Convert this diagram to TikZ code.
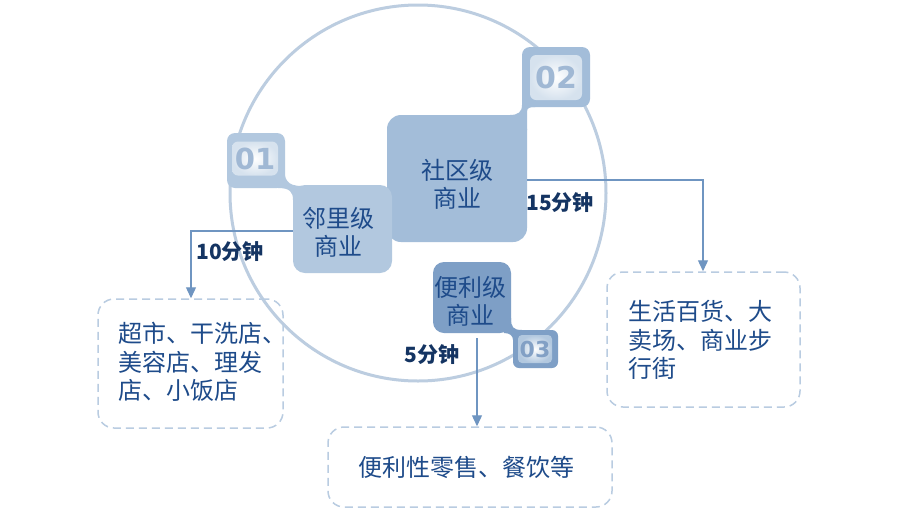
\documentclass[tikz,border=0pt]{standalone}
\usepackage{fontspec}
\setmainfont{Noto Sans CJK SC}
\newfontfamily\digitfont{DejaVu Sans}
\usetikzlibrary{arrows.meta}
\definecolor{ringc}{RGB}{188,205,224}
\definecolor{boxmid}{RGB}{163,189,217}
\definecolor{boxlight}{RGB}{178,200,223}
\definecolor{boxdark}{RGB}{126,159,198}
\definecolor{txtc}{RGB}{30,75,138}
\definecolor{labc}{RGB}{20,52,98}
\definecolor{arrc}{RGB}{111,149,193}
\definecolor{dashc}{RGB}{185,204,225}
\definecolor{innerc}{RGB}{214,226,238}
\definecolor{digc}{RGB}{160,184,212}
\definecolor{digdark}{RGB}{130,160,197}
\begin{document}
\begin{tikzpicture}[x=1pt,y=-1pt,
  ring/.style={draw=ringc,line width=3pt},
  tile/.style={rounded corners=14pt,inner sep=0pt},
  badge/.style={rounded corners=8pt,inner sep=0pt},
  inbadge/.style={rounded corners=6pt,inner sep=0pt,inner color=white,outer color=innerc},
  boxtext/.style={text=txtc,align=center,font=\fontsize{24}{28}\selectfont},
  timelab/.style={text=labc,font=\bfseries\fontsize{21}{24}\selectfont},
  frame/.style={draw=dashc,line width=1.5pt,dash pattern=on 8pt off 5pt,rounded corners=16pt,inner sep=0pt},
  frametext/.style={text=txtc,align=left,font=\fontsize{24}{28.5}\selectfont,inner sep=0pt},
  arr/.style={draw=arrc,line width=1.3pt,-{Triangle[width=10pt,length=11pt]}}
]
\useasboundingbox (0,0) rectangle (900,512);
\fill[white] (0,0) rectangle (900,512);

% ring
\draw[ring] (418,193) circle[radius=188];

% junctions
\fill[boxmid] (522,98) -- (522,105) .. controls (522,112) and (518,115) .. (510,115)
  -- (510,125) -- (527,130) -- (527,112) .. controls (527,108) and (529,107) .. (535,107) -- (535,98) -- cycle;
\fill[boxlight] (278,165) -- (284,165) .. controls (284,180) and (287,186) .. (302,186)
  -- (302,200) -- (293,200) .. controls (293,192) and (290,188) .. (278,188) -- cycle;
\fill[boxdark] (504,318) -- (511,318) .. controls (511,327) and (513,330) .. (522,330)
  -- (522,340) -- (513,340) .. controls (513,336) and (510,333) .. (504,333) -- cycle;

% badges
\node[badge,fill=boxmid,minimum width=68pt,minimum height=60pt] (b2) at (556,77) {};
\node[inbadge,minimum width=52pt,minimum height=45pt] (b2i) at (556,77.5)
  {\digitfont\bfseries\fontsize{30}{30}\selectfont\color{digc}02};
\node[badge,fill=boxlight,minimum width=58pt,minimum height=55pt] (b1) at (256,160.5) {};
\node[inbadge,minimum width=46pt,minimum height=34pt] (b1i) at (255,158.5)
  {\digitfont\bfseries\fontsize{29}{29}\selectfont\color{digc}01};
\node[badge,fill=boxdark,minimum width=45pt,minimum height=38pt,rounded corners=6pt] (b3) at (535.5,349) {};
\node[inbadge,minimum width=34pt,minimum height=28pt,rounded corners=4pt,outer color=boxlight] (b3i) at (535,349)
  {\digitfont\bfseries\fontsize{22}{22}\selectfont\color{digdark}03};

% level boxes
\node[tile,fill=boxmid,minimum width=140pt,minimum height=127pt] (sq) at (457,178.5) {};
\node[boxtext] (sqt) at (457,184) {社区级\\商业};
\node[tile,fill=boxlight,minimum width=99pt,minimum height=88pt,rounded corners=12pt] (lj) at (342.5,229) {};
\node[boxtext] (ljt) at (338,232) {邻里级\\商业};
\node[tile,fill=boxdark,minimum width=78pt,minimum height=71pt,rounded corners=11pt] (bl) at (472,297.5) {};
\node[boxtext] (blt) at (470,301) {便利级\\商业};

% frames
\node[frame,minimum width=185pt,minimum height=129pt] (d1) at (190.5,363.5) {};
\node[frametext,anchor=west] (t1) at (118,362) {超市、干洗店、\\美容店、理发\\店、小饭店};
\node[frame,minimum width=193pt,minimum height=135pt] (d2) at (703.5,339.5) {};
\node[frametext,anchor=west] (t2) at (628,340) {生活百货、大\\卖场、商业步\\行街};
\node[frame,minimum width=284pt,minimum height=80pt] (d3) at (470,467) {};
\node[frametext] (t3) at (466,467) {便利性零售、餐饮等};

% connectors
\coordinate (c1) at (191,231);
\draw[arr] (lj.west |- c1) -- (c1) -- (c1 |- d1.north);
\coordinate (c2) at (703,180);
\draw[arr] (sq.east |- c2) -- (c2) -- (c2 |- d2.north);
\coordinate (c3) at (477,338);
\draw[arr] (c3) -- (c3 |- d3.north);

% time labels
\node[timelab] (l1) at (230,252) {10分钟};
\node[timelab] (l2) at (560,203) {15分钟};
\node[timelab] (l3) at (432,355) {5分钟};
\end{tikzpicture}
\end{document}
